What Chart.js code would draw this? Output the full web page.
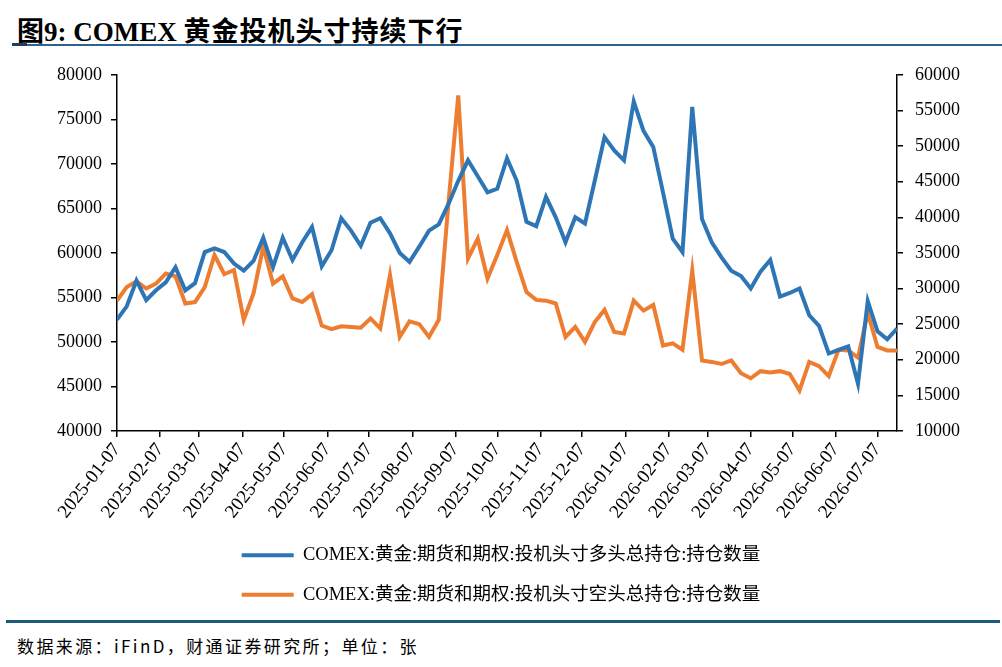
<!DOCTYPE html>
<html>
<head>
<meta charset="utf-8">
<script src="https://cdn.jsdelivr.net/npm/chart.js@4.4.1/dist/chart.umd.min.js"></script>
<style>
  html, body { margin: 0; padding: 0; background: #fff; }
  body { width: 1002px; height: 667px; position: relative; overflow: hidden; }
  #title { position: absolute; left: 17px; top: 10px; font: bold 27px 'Liberation Serif', 'Noto Sans CJK SC'; color: #000; white-space: nowrap; }
  #title span { letter-spacing: 1px; }
  #titleRule { position: absolute; left: 12px; top: 44px; width: 990px; height: 1.5px; background: #2f6190; }
  #titleMark { position: absolute; left: 12px; top: 43px; width: 15px; height: 3px; background: #1f3f60; }
  #chartBox { position: absolute; left: 0; top: 52px; width: 1002px; height: 562px; }
  #footRule { position: absolute; left: 6px; top: 620px; width: 994px; height: 3px; background: #1e5a7c; }
  #source { position: absolute; left: 17px; top: 633px; font: 17px 'Noto Sans CJK SC'; letter-spacing: 2.4px; color: #000; white-space: nowrap; }
</style>
</head>
<body>
<div id="title">图9: COMEX <span>黄金投机头寸持续下行</span></div>
<div id="titleRule"></div>
<div id="titleMark"></div>
<div id="chartBox"><canvas id="myChart" width="1002" height="562"></canvas></div>
<div id="footRule"></div>
<div id="source">数据来源：iFinD，财通证券研究所；单位：张</div>
<script>
// weekly data, first week 2025-01-07
const startDate = '2025-01-07';
const xTickLabels = ['2025-01-07', '2025-02-07', '2025-03-07', '2025-04-07', '2025-05-07', '2025-06-07',
    '2025-07-07', '2025-08-07', '2025-09-07', '2025-10-07', '2025-11-07', '2025-12-07',
    '2026-01-07', '2026-02-07', '2026-03-07', '2026-04-07', '2026-05-07', '2026-06-07', '2026-07-07'];

// 多头总持仓 (left axis)
const longPos = [52500, 54000, 56900, 54700, 55800, 56700, 58400, 55800, 56600, 60100,
    60500, 60100, 58800, 58000, 59100, 61700, 58400, 61700, 59200, 61200,
    62900, 58500, 60300, 63900, 62500, 60800, 63400, 63900, 62200, 60000,
    59000, 60700, 62500, 63200, 65500, 68100, 70400, 68600, 66800, 67200,
    70600, 68100, 63500, 63000, 66300, 64000, 61200, 64000, 63300, 68100,
    73000, 71500, 70400, 77000, 73700, 71900, 66800, 61600, 60100, 76400,
    63800, 61200, 59500, 58000, 57400, 56000, 57900, 59200, 55100, 55500,
    56000, 53000, 51800, 48700, 49100, 49500, 45300, 54600, 51200, 50300, 51500];

// 空头总持仓 (right axis)
const shortPos = [28300, 30200, 31000, 30000, 30700, 32100, 31700, 27900, 28100, 30200,
    34700, 32000, 32600, 25600, 29300, 35900, 30700, 31700, 28600, 28100,
    29200, 24800, 24300, 24700, 24600, 24500, 25800, 24400, 31900, 23200,
    25400, 25000, 23200, 25600, 42100, 57100, 34200, 37000, 31400, 34700,
    38200, 33700, 29500, 28400, 28300, 27900, 23200, 24600, 22500, 25300,
    27000, 23900, 23700, 28300, 26900, 27700, 22000, 22300, 21400, 32500,
    19900, 19700, 19400, 19900, 18100, 17400, 18400, 18200, 18400, 18000,
    15700, 19700, 19100, 17700, 21400, 21300, 20300, 26600, 21800, 21300, 21300];

const longLabel = 'COMEX:黄金:期货和期权:投机头寸多头总持仓:持仓数量';
const shortLabel = 'COMEX:黄金:期货和期权:投机头寸空头总持仓:持仓数量';

const dayMs = 86400000;
function dayOffset(s) {
    return Math.round((Date.parse(s) - Date.parse(startDate)) / dayMs);
}
const tickDays = xTickLabels.map(dayOffset);
const lastDay = (longPos.length - 1) * 7;

const tickFont = { family: "'Liberation Serif', serif", size: 18 };

let ctx = document.getElementById('myChart').getContext('2d');
let myChart = new Chart(ctx, {
    type: 'line',
    data: {
        datasets: [
            {
                label: longLabel,
                data: longPos.map((v, i) => ({ x: i * 7, y: v })),
                borderColor: '#2e75b6',
                backgroundColor: '#2e75b6',
                borderWidth: 4,
                pointRadius: 0,
                yAxisID: 'yL'
            },
            {
                label: shortLabel,
                data: shortPos.map((v, i) => ({ x: i * 7, y: v })),
                borderColor: '#ed7d31',
                backgroundColor: '#ed7d31',
                borderWidth: 4,
                pointRadius: 0,
                yAxisID: 'yR'
            }
        ]
    },
    options: {
        responsive: false,
        animation: false,
        layout: { padding: { top: 22, left: 0, right: 0, bottom: 0 } },
        plugins: {
            tooltip: { enabled: false },
            legend: {
                position: 'bottom',
                labels: {
                    boxWidth: 52,
                    boxHeight: 4,
                    padding: 21,
                    color: '#000',
                    font: { family: "'Liberation Serif', 'Noto Sans CJK SC'", size: 18.5 },
                    generateLabels: chart => Chart.defaults.plugins.legend.labels.generateLabels(chart)
                        .map(l => Object.assign(l, { lineWidth: 0 }))
                }
            }
        },
        scales: {
            x: {
                type: 'linear',
                min: 0,
                max: lastDay,
                afterBuildTicks: s => { s.ticks = tickDays.map(v => ({ value: v })); },
                afterFit: s => { s.height = 94; },
                ticks: {
                    autoSkip: false,
                    minRotation: 52,
                    maxRotation: 52,
                    padding: 2,
                    color: '#000',
                    font: { family: "'Liberation Serif', serif", size: 19 },
                    callback: (v, i) => xTickLabels[i]
                },
                grid: { drawOnChartArea: false, tickLength: 6, color: '#000', lineWidth: 1.5 },
                border: { color: '#000', width: 1.5 }
            },
            yL: {
                position: 'left',
                min: 40000,
                max: 80000,
                afterFit: s => { s.width = 117; },
                ticks: { stepSize: 5000, padding: 9, color: '#000', font: tickFont, callback: v => String(v) },
                grid: { drawOnChartArea: false, tickLength: 6, color: '#000', lineWidth: 1.5 },
                border: { color: '#000', width: 1.5 }
            },
            yR: {
                position: 'right',
                min: 10000,
                max: 60000,
                afterFit: s => { s.width = 105; },
                ticks: { stepSize: 5000, padding: 12, color: '#000', font: tickFont, callback: v => String(v) },
                grid: { drawOnChartArea: false, tickLength: 6, color: '#000', lineWidth: 1.5 },
                border: { color: '#000', width: 1.5 }
            }
        }
    }
});
</script>
</body>
</html>
